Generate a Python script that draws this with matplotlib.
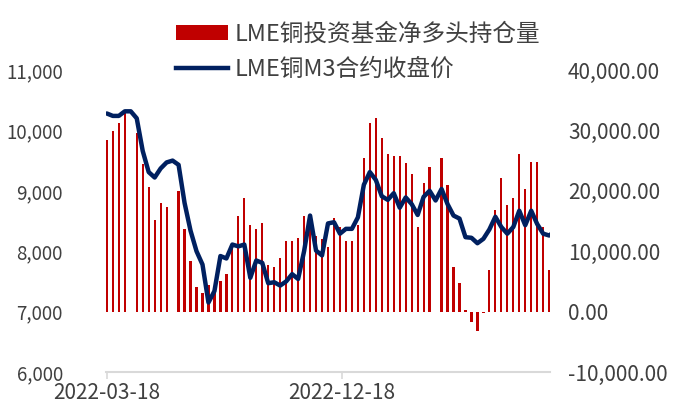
import matplotlib

matplotlib.use("Agg")

import matplotlib.pyplot as plt
import matplotlib.dates as mdates
import numpy as np
import pandas as pd
from matplotlib.patches import Patch
from matplotlib.lines import Line2D
from matplotlib.ticker import FuncFormatter

plt.rcParams["font.family"] = ["Noto Sans CJK SC", "DejaVu Sans"]

start_date = "2022-03-18"

# LME copper investment-fund net long position (weekly, right axis)
net_long = [
    28400, 29850, 31300, 32800, np.nan, 29500, 24500, 20600, 15100, 18000,
    17300, np.nan, 19950, 13600, 8460, 4030, 3000, 4420, 3300, 5140,
    6250, 10400, 15800, 18800, 14400, 13600, 14700, 7740, 7350, 8840,
    11770, 11770, 12160, 15800, 16200, 12500, 12000, 10700, 15470, 13980,
    11770, 11770, 14380, 25420, 31290, 32060, 28740, 26150, 25750, 25750,
    24650, 22830, 13980, 21340, 23930, np.nan, 25370, 21010, 7350, 4760,
    300, -1770, -3270, -300, 6970, 16900, 22100, 17700, 18800, 26150,
    20230, 24760, 24760, 13980, 6970,
]

# LME copper 3M close (left axis)
close_3m = [
    10280, 10240, 10240, 10316, 10316, 10200, 9660, 9310, 9220, 9370,
    9470, 9500, 9430, 8800, 8340, 8000, 7780, 7150, 7340, 7920,
    7880, 8110, 8080, 8110, 7560, 7846, 7807, 7470, 7486, 7431,
    7500, 7620, 7540, 8000, 8590, 8010, 7930, 8460, 8480, 8290,
    8370, 8370, 8560, 9100, 9310, 9180, 8910, 8850, 8960, 8720,
    8890, 8780, 8600, 8900, 9000, 8840, 9030, 8780, 8590, 8540,
    8232, 8222, 8132, 8205, 8360, 8570, 8400, 8290, 8400, 8670,
    8430, 8670, 8450, 8290, 8260, 8330,
]

bar_dates = pd.date_range(start_date, periods=len(net_long), freq="7D")
line_dates = pd.date_range(start_date, periods=len(close_3m), freq="7D")
x_ticks = pd.to_datetime(["2022-03-18", "2022-12-18"])

bar_label = "LME铜投资基金净多头持仓量"
line_label = "LME铜M3合约收盘价"

text_color = "#404040"
fs = 15

fig = plt.figure(figsize=(6.82, 4.16), dpi=100)
ax = fig.add_axes([106 / 682, 44 / 416, 444 / 682, 302 / 416])
ax2 = ax.twinx()

ax2.bar(bar_dates, net_long, width=2.6, color="#C00000", zorder=2)
ax.plot(line_dates, close_3m, color="#002060", linewidth=3.2, zorder=3,
        solid_capstyle="round", solid_joinstyle="round")

ax.set_zorder(ax2.get_zorder() + 1)
ax.patch.set_visible(False)

ax.set_ylim(6000, 11000)
ax.set_yticks(np.arange(6000, 11001, 1000))
ax.yaxis.set_major_formatter(FuncFormatter(lambda v, p: f"{v:,.0f}"))
ax2.set_ylim(-10000, 40000)
ax2.set_yticks(np.arange(-10000, 40001, 10000))
ax2.yaxis.set_major_formatter(FuncFormatter(lambda v, p: f"{v:,.2f}"))

ax.set_xlim(pd.Timestamp("2022-03-17"), pd.Timestamp("2023-08-19"))
ax.set_xticks(x_ticks)
ax.xaxis.set_major_formatter(mdates.DateFormatter("%Y-%m-%d"))

for a in (ax, ax2):
    for s in ("top", "left", "right", "bottom"):
        a.spines[s].set_visible(False)
ax.spines["bottom"].set_visible(True)
ax.spines["bottom"].set_color("#d9d9d9")
ax.spines["bottom"].set_linewidth(1.5)

ax.tick_params(axis="y", length=0, pad=31, labelsize=13.5, labelcolor=text_color)
ax2.tick_params(axis="y", length=0, pad=13, labelsize=fs, labelcolor=text_color)
ax.tick_params(axis="x", length=5, width=1.2, color="#d9d9d9", pad=2,
               labelsize=fs, labelcolor=text_color)

handles = [Patch(facecolor="#C00000", edgecolor="none"),
           Line2D([], [], color="#002060", linewidth=3.2)]
fig.legend(handles, [bar_label, line_label], loc="upper left",
           bbox_to_anchor=(176 / 682, 1 - 23 / 416), frameon=False,
           fontsize=17, labelcolor=text_color, handlelength=2.2,
           handleheight=0.6, handletextpad=0.3, labelspacing=0.5,
           borderpad=0, borderaxespad=0)

fig.savefig("out.png", dpi=100)
